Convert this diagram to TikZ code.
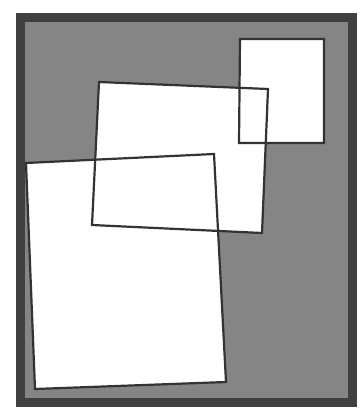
\documentclass[tikz,border=0pt]{standalone}
\usepackage{tikz}
\definecolor{framegray}{HTML}{404040}
\definecolor{fieldgray}{HTML}{858585}
\definecolor{edgegray}{HTML}{333333}
\tikzstyle{frame}=[draw=framegray,fill=fieldgray,line width=9*0.025cm]
\tikzstyle{sheet}=[fill=white]
\tikzstyle{outline}=[draw=edgegray,line width=2.2*0.025cm,line join=miter]

\begin{document}
\begin{tikzpicture}[x=0.025cm,y=-0.025cm]
\useasboundingbox (0,0) rectangle (360,420);
% background field
\draw [frame] (20,17.5) rectangle (352,402);
% corners of the three sheets
\coordinate (s1) at (240,39);  \coordinate (s2) at (324,39);
\coordinate (s3) at (324,143); \coordinate (s4) at (239,143);
\coordinate (m1) at (99,82);   \coordinate (m2) at (268,89);
\coordinate (m3) at (262,233); \coordinate (m4) at (92,225);
\coordinate (b1) at (26,163);  \coordinate (b2) at (214,154);
\coordinate (b3) at (226,382); \coordinate (b4) at (35,389);
% white fills first, outlines on top
\fill [sheet] (s1) -- (s2) -- (s3) -- (s4) -- cycle;
\fill [sheet] (m1) -- (m2) -- (m3) -- (m4) -- cycle;
\fill [sheet] (b1) -- (b2) -- (b3) -- (b4) -- cycle;
\draw [outline] (s1) -- (s2) -- (s3) -- (s4) -- cycle;
\draw [outline] (m1) -- (m2) -- (m3) -- (m4) -- cycle;
\draw [outline] (b1) -- (b2) -- (b3) -- (b4) -- cycle;
\end{tikzpicture}
\end{document}
